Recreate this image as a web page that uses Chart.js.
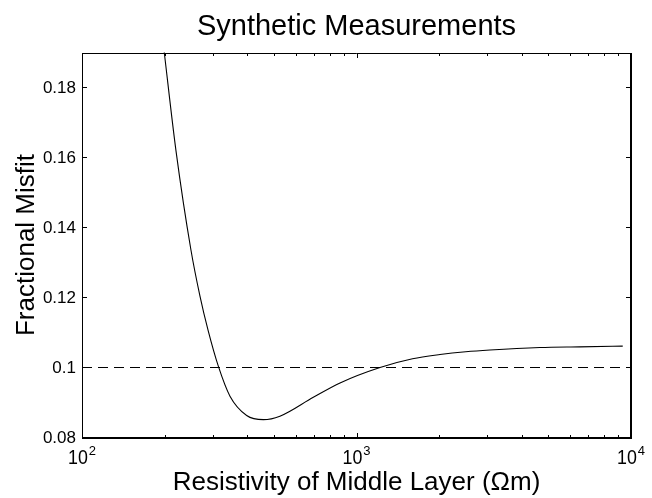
<!DOCTYPE html>
<html><head><meta charset="utf-8">
<script src="https://cdn.jsdelivr.net/npm/chart.js@4"></script>
<style>html,body{margin:0;padding:0;background:#fff}#wrap{width:652px;height:498px;position:relative}</style>
</head><body><div id="wrap"><canvas id="c" width="652" height="498"></canvas></div>
<script>
// ---- data ----
const resistivity = [190, 199.4, 220, 249.5, 269, 288, 314, 346, 398, 458, 526, 696, 871, 1218, 1600, 2014, 2500, 3062, 4656, 6500, 9330];
const misfit      = [0.204, 0.19, 0.1619, 0.1335, 0.1204, 0.1106, 0.1003, 0.0918, 0.0863, 0.0851, 0.0861, 0.0915, 0.0956, 0.1, 0.1025, 0.1037, 0.1045, 0.1050, 0.1057, 0.1059, 0.1061];
const thresholdX = [100, 10000];
const thresholdY = [0.1, 0.1];
const yTicks = [0.08, 0.1, 0.12, 0.14, 0.16, 0.18];
const yTickLabels = ['0.08', '0.1', '0.12', '0.14', '0.16', '0.18'];
const xMajor = [100, 1000, 10000];
const xMajorExp = ['2', '3', '4'];
const xMinor = [200, 300, 400, 500, 600, 700, 800, 900, 2000, 3000, 4000, 5000, 6000, 7000, 8000, 9000];
const titleText = 'Synthetic Measurements';
const xLabelText = 'Resistivity of Middle Layer (\u03A9m)';
const yLabelText = 'Fractional Misfit';

const FONT = '"Liberation Sans", Arial, Helvetica, sans-serif';

const decor = {
  id: 'decor',
  afterDraw(chart) {
    const ctx = chart.ctx, a = chart.chartArea, xs = chart.scales.x, ys = chart.scales.y;
    const L = Math.round(a.left), R = Math.round(a.right), T = Math.round(a.top), B = Math.round(a.bottom);
    ctx.save();
    ctx.strokeStyle = '#000'; ctx.fillStyle = '#000';
    // box
    ctx.lineWidth = 1;
    ctx.beginPath();
    ctx.moveTo(L + 0.5, B); ctx.lineTo(L + 0.5, T + 0.5); ctx.lineTo(R, T + 0.5);
    ctx.stroke();
    ctx.lineWidth = 2;
    ctx.beginPath();
    ctx.moveTo(L, B); ctx.lineTo(R, B); ctx.lineTo(R, T);
    ctx.stroke();
    // ticks
    ctx.lineWidth = 1;
    ctx.beginPath();
    yTicks.forEach(v => {
      const y = Math.floor(ys.getPixelForValue(v)) + 0.5;
      ctx.moveTo(L, y); ctx.lineTo(L + 5, y);
      ctx.moveTo(R, y); ctx.lineTo(R - 5, y);
    });
    xMajor.forEach(v => {
      const x = Math.round(xs.getPixelForValue(v)) + 0.5;
      ctx.moveTo(x, B); ctx.lineTo(x, B - 5);
      ctx.moveTo(x, T); ctx.lineTo(x, T + 5);
    });
    xMinor.forEach(v => {
      const x = Math.round(xs.getPixelForValue(v)) + 0.5;
      ctx.moveTo(x, B); ctx.lineTo(x, B - 3);
      ctx.moveTo(x, T); ctx.lineTo(x, T + 3);
    });
    ctx.stroke();
    // y tick labels
    ctx.font = '17px ' + FONT;
    ctx.textAlign = 'right'; ctx.textBaseline = 'middle';
    yTicks.forEach((v, i) => {
      ctx.fillText(yTickLabels[i], L - 6, ys.getPixelForValue(v) + 1);
    });
    // x tick labels 10^n
    xMajor.forEach((v, i) => {
      const x = xs.getPixelForValue(v);
      ctx.font = '21px ' + FONT;
      const w10 = ctx.measureText('10').width * 0.85;
      ctx.font = '13px ' + FONT;
      const we = ctx.measureText(xMajorExp[i]).width;
      const total = w10 + 1 + we;
      const x0 = x - total / 2;
      ctx.textAlign = 'left'; ctx.textBaseline = 'alphabetic';
      ctx.save();
      ctx.translate(x0, 464);
      ctx.scale(0.85, 1);
      ctx.font = '21px ' + FONT;
      ctx.fillText('10', 0, 0);
      ctx.restore();
      ctx.font = '13px ' + FONT;
      ctx.fillText(xMajorExp[i], x0 + w10 + 1, 455);
    });
    // title
    ctx.font = '29px ' + FONT;
    ctx.textAlign = 'center'; ctx.textBaseline = 'alphabetic';
    ctx.fillText(titleText, (a.left + a.right) / 2, 35);
    // x label
    ctx.font = '26px ' + FONT;
    ctx.fillText(xLabelText, (a.left + a.right) / 2, 490);
    // y label
    ctx.save();
    ctx.translate(34, (a.top + a.bottom) / 2);
    ctx.rotate(-Math.PI / 2);
    ctx.fillText(yLabelText, 0, 0);
    ctx.restore();
    ctx.restore();
  }
};

new Chart(document.getElementById('c'), {
  type: 'scatter',
  data: {
    datasets: [
      {
        data: resistivity.map((x, i) => ({ x, y: misfit[i] })),
        showLine: true, borderColor: '#000', borderWidth: 1.1, pointRadius: 0,
        cubicInterpolationMode: 'monotone', clip: 0
      },
      {
        data: thresholdX.map((x, i) => ({ x, y: thresholdY[i] })),
        showLine: true, borderColor: '#000', borderWidth: 1, borderDash: [10, 6], pointRadius: 0, clip: 0
      }
    ]
  },
  options: {
    responsive: false, animation: false, devicePixelRatio: 1,
    layout: { padding: { left: 82, top: 52.5, right: 21, bottom: 60.5 } },
    plugins: { legend: { display: false }, title: { display: false }, tooltip: { enabled: false } },
    scales: {
      x: { type: 'logarithmic', min: 100, max: 10000, display: false },
      y: { type: 'linear', min: 0.08, max: 0.19, display: false }
    }
  },
  plugins: [decor]
});
</script>
</body></html>
